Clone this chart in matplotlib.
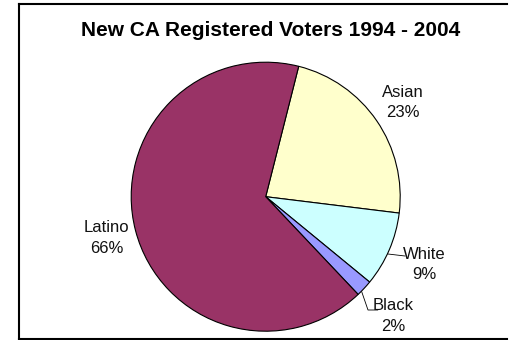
import matplotlib

matplotlib.use("Agg")
import matplotlib.pyplot as plt
import numpy as np

plt.rcParams["font.family"] = ["Liberation Sans", "DejaVu Sans"]

# data
groups = ["Asian", "White", "Black", "Latino"]
shares = [23, 9, 2, 66]
colors = ["#FFFFCC", "#CCFFFF", "#9999FF", "#993366"]

# layout (pixel space, y up)
W, H = 510, 340
CX, CY, R = 265.7, 143.3, 134.5
START = 90 - 14.2          # first slice edge, degrees
LABEL_DIST = [1.24, 1.28, 1.30, 1.22]

fig = plt.figure(figsize=(W / 100, H / 100), dpi=100)
ax = fig.add_axes([0, 0, 1, 1])

wedges, _ = ax.pie(
    shares, colors=colors, startangle=START, counterclock=False,
    center=(CX, CY), radius=R,
    wedgeprops=dict(edgecolor="black", linewidth=0.8),
)

for w, name, val, d in zip(wedges, groups, shares, LABEL_DIST):
    mid = np.deg2rad((w.theta1 + w.theta2) / 2)
    x = CX + R * d * np.cos(mid)
    y = CY + R * d * np.sin(mid)
    ax.text(x, y, f"{name}\n{val}%", ha="center", va="center",
            fontsize=12, linespacing=1.45, color="#111111")

# leader lines for the small slices
ax.plot([388, 405], [H - 254, H - 256], color="black", lw=0.6)
ax.plot([361.7, 368, 377.7], [H - 291.7, H - 310, H - 310], color="black", lw=0.6)

ax.text(271, H - 30, "New CA Registered Voters 1994 - 2004", ha="center",
        va="center", fontsize=15, fontweight="bold")

# chart frame: the right side runs off the picture
frame = dict(color="black", lw=1.5, solid_capstyle="projecting")
ax.plot([19, W - 3], [H - 4, H - 4], **frame)
ax.plot([19, 19], [H - 4, 1.5], **frame)
ax.plot([19, W - 3], [1.5, 1.5], **frame)

ax.set_xlim(0, W)
ax.set_ylim(0, H)
ax.axis("off")

fig.savefig("out.png", dpi=100)
